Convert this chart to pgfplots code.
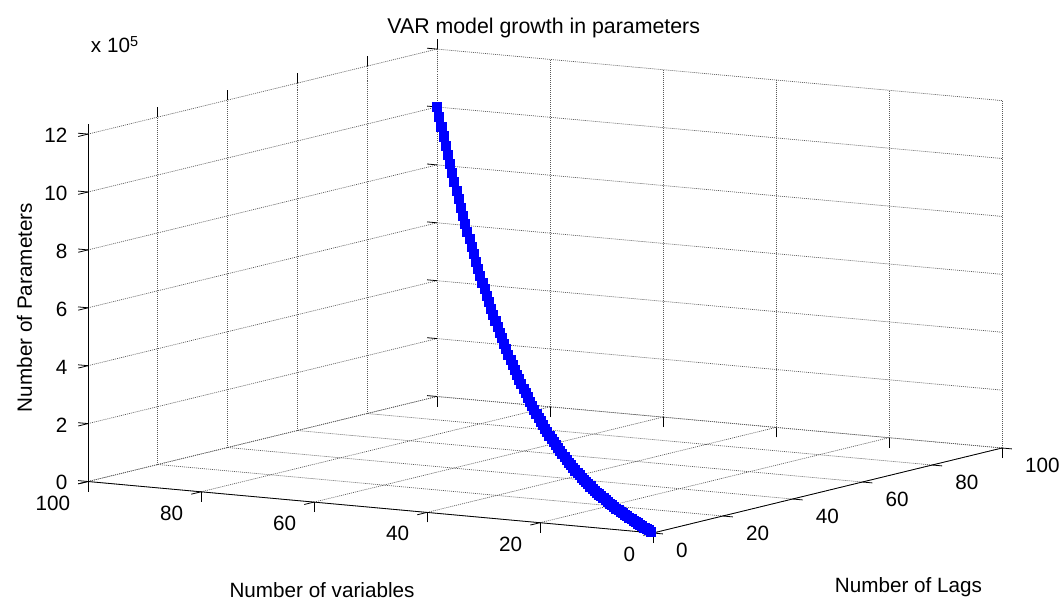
\documentclass[border=0pt]{standalone}
\usepackage{pgfplots}
\pgfplotsset{compat=1.18}
\usepackage{pgfplotstable}
\usepackage{fontspec}
\setmainfont{Liberation Sans}
\usetikzlibrary{calc}
\newcommand\fs{\fontsize{15.5}{18}\selectfont}

\pgfplotstableread{
n p k
1 1 2
2 2 10
3 3 30
4 4 68
5 5 130
6 6 222
7 7 350
8 8 520
9 9 738
10 10 1010
11 11 1342
12 12 1740
13 13 2210
14 14 2758
15 15 3390
16 16 4112
17 17 4930
18 18 5850
19 19 6878
20 20 8020
21 21 9282
22 22 10670
23 23 12190
24 24 13848
25 25 15650
26 26 17602
27 27 19710
28 28 21980
29 29 24418
30 30 27030
31 31 29822
32 32 32800
33 33 35970
34 34 39338
35 35 42910
36 36 46692
37 37 50690
38 38 54910
39 39 59358
40 40 64040
41 41 68962
42 42 74130
43 43 79550
44 44 85228
45 45 91170
46 46 97382
47 47 103870
48 48 110640
49 49 117698
50 50 125050
51 51 132702
52 52 140660
53 53 148930
54 54 157518
55 55 166430
56 56 175672
57 57 185250
58 58 195170
59 59 205438
60 60 216060
61 61 227042
62 62 238390
63 63 250110
64 64 262208
65 65 274690
66 66 287562
67 67 300830
68 68 314500
69 69 328578
70 70 343070
71 71 357982
72 72 373320
73 73 389090
74 74 405298
75 75 421950
76 76 439052
77 77 456610
78 78 474630
79 79 493118
80 80 512080
81 81 531522
82 82 551450
83 83 571870
84 84 592788
85 85 614210
86 86 636142
87 87 658590
88 88 681560
89 89 705058
90 90 729090
91 91 753662
92 92 778780
93 93 804450
94 94 830678
95 95 857470
96 96 884832
97 97 912770
98 98 941290
99 99 970398
100 100 1000100
}\vardata

\begin{document}
\begin{tikzpicture}
\begin{axis}[
  x dir=reverse,
  x={(4.2375pt,-0.38625pt)}, y={(2.6175pt,0.6375pt)}, z={(0pt,21.7125pt)},
  xmin=0,xmax=100,ymin=0,ymax=100,zmin=0,zmax=12,
  xtick={0,20,...,100}, ytick={0,20,...,100}, ztick={0,2,...,12},
  xtick pos=left, ytick pos=right, ztick pos=left,
  xticklabel pos=left, yticklabel pos=left, zticklabel pos=left,
  grid=major,
  major grid style={black!65, line width=0.5pt, dash pattern=on 0.75pt off 0.75pt},
  axis line style={draw=none},
  tick align=outside,
  major tick length=7.5pt,
  tick style={black, line width=0.6pt, solid},
  ticklabel style={font=\fs, inner sep=0pt},
  /pgf/number format/assume math mode=true,
  xticklabel style={anchor=north east, xshift=-6pt, yshift=-8.6pt},
  yticklabel style={anchor=north west, xshift=9.75pt, yshift=-6.4pt},
  zticklabel style={anchor=east, xshift=-8pt, yshift=0.75pt},
  clip=false,
]
\coordinate (O) at (axis cs:0,0,0);
\draw[black, line width=0.6pt] (axis cs:100,0,0) -- (axis cs:0,0,0) -- (axis cs:0,100,0);
\draw[black, line width=0.6pt] (axis cs:100,0,0) -- (axis cs:100,0,12);
\addplot3[blue, line width=4pt, mark=square*, mark size=3.4pt,
  mark options={solid, fill=blue, draw=blue, line width=0.5pt}]
  table[x=n, y=p, z expr=\thisrow{k}/100000] {\vardata};
\end{axis}
\coordinate (BL) at ($(O)+(-489.75pt,-51pt)$);
\begin{scope}[shift={(BL)}, x=0.75pt, y=0.75pt]
  \node[anchor=base, inner sep=0pt] at (543.7,567.7) {\fontsize{16}{19}\selectfont VAR model growth in parameters};
  \node[anchor=base west, inner sep=0pt] at (90.7,548) {\fs x 10\textsuperscript{5}};
  \node[anchor=base, rotate=90, inner sep=0pt] at (32,293.5) {\fs Number of Parameters};
  \node[anchor=base, inner sep=0pt] at (322,4) {\fs Number of variables};
  \node[anchor=base, inner sep=0pt] at (908.5,9) {\fs Number of Lags};
  \pgfresetboundingbox
  \path[use as bounding box] (0,0) rectangle (1060,601);
\end{scope}
\end{tikzpicture}
\end{document}
